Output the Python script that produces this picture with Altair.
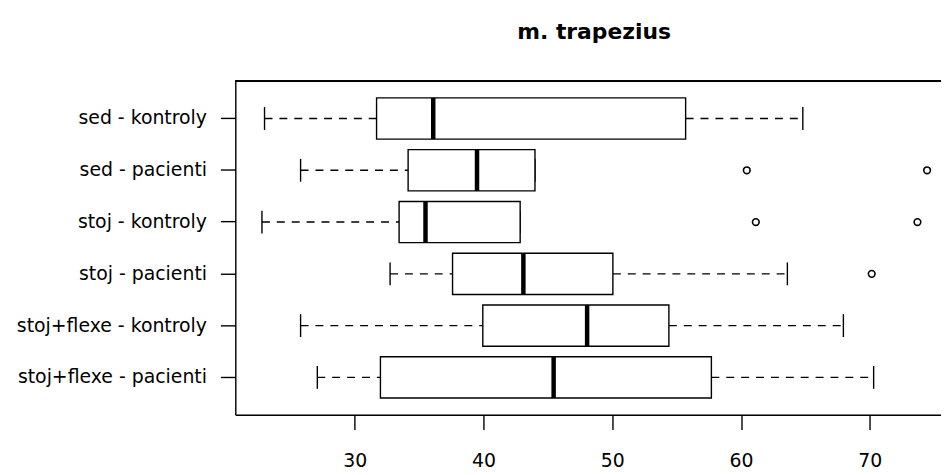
import altair as alt
import pandas as pd

# ---- data ----
groups = [
    "sed - kontroly",
    "sed - pacienti",
    "stoj - kontroly",
    "stoj - pacienti",
    "stoj+flexe - kontroly",
    "stoj+flexe - pacienti",
]
lower_whisker = [23.0, 25.8, 22.8, 32.75, 25.8, 27.1]
q1 = [31.7, 34.15, 33.45, 37.6, 39.95, 32.0]
median = [36.1, 39.5, 35.5, 43.1, 48.05, 45.45]
q3 = [55.7, 44.0, 42.85, 50.05, 54.4, 57.7]
upper_whisker = [64.8, 44.0, 42.85, 63.6, 67.95, 70.3]

outlier_groups = ["sed - pacienti", "sed - pacienti", "stoj - kontroly", "stoj - kontroly", "stoj - pacienti"]
outlier_values = [60.45, 74.45, 61.15, 73.7, 70.15]

x_ticks = [30, 40, 50, 60, 70]
title_text = "m. trapezius"

box = pd.DataFrame({
    "group": groups, "lw": lower_whisker, "q1": q1,
    "med": median, "q3": q3, "uw": upper_whisker,
})
out = pd.DataFrame({"group": outlier_groups, "value": outlier_values})

FONT = "DejaVu Sans"
W, H = 711, 336
LW = 1.4

xscale = alt.Scale(domain=[20.73, 75.53], nice=False, zero=False)
yscale = alt.Scale(paddingInner=0, paddingOuter=0.22)

X = lambda f: alt.X(f, type="quantitative", scale=xscale,
                    axis=alt.Axis(values=x_ticks, title=None, grid=False,
                                  tickSize=15, labelPadding=22,
                                  labelFont=FONT, labelFontSize=19,
                                  labelColor="black", tickColor="black",
                                  domainColor="black", labelFlush=False,
                                  domainWidth=LW, tickWidth=LW))
Y = alt.Y("group:N", sort=groups, scale=yscale,
          axis=alt.Axis(title=None, tickSize=15, labelPadding=14,
                        labelFont=FONT, labelFontSize=19, labelColor="black",
                        tickColor="black", domainColor="black", labelLimit=0,
                        labelBaseline="middle", domainWidth=LW, tickWidth=LW))

base = alt.Chart(box)

whisk_lo = base.mark_rule(color="black", strokeWidth=LW, strokeDash=[8, 7], opacity=1).encode(
    x=X("lw"), x2="q1", y=Y)
whisk_hi = base.mark_rule(color="black", strokeWidth=LW, strokeDash=[8, 7], opacity=1).encode(
    x=X("q3"), x2="uw", y=Y)
staple_lo = base.mark_tick(color="black", thickness=LW, size=23, opacity=1).encode(x=X("lw"), y=Y)
staple_hi = base.mark_tick(color="black", thickness=LW, size=23, opacity=1).encode(x=X("uw"), y=Y)
boxes = base.mark_bar(fill="white", stroke="black", strokeWidth=LW, size=41.5, opacity=1).encode(
    x=X("q1"), x2="q3", y=Y)
meds = base.mark_tick(color="black", thickness=4.5, size=41.5, opacity=1).encode(x=X("med"), y=Y)
pts = alt.Chart(out).mark_point(shape="circle", filled=False, color="black",
                                size=45, strokeWidth=1.6, opacity=1).encode(
    x=X("value"), y=Y)
top_frame = base.mark_rule(color="black", strokeWidth=LW).encode(
    x=alt.value(0), x2=alt.value(W), y=alt.value(0))

chart = alt.layer(whisk_lo, whisk_hi, staple_lo, staple_hi, boxes, meds, pts, top_frame).properties(
    width=W, height=H,
    title=alt.TitleParams(title_text, font=FONT, fontSize=22, fontWeight="bold",
                          anchor="middle", color="black", offset=20,
                          baseline="alphabetic", dx=6),
    padding={"left": 229, "top": 72, "right": 0, "bottom": 58},
    autosize=alt.AutoSizeParams(type="none"),
).configure_view(stroke=None).configure(background="white")

chart.save("out.html", embed_options={"renderer": "svg", "actions": False})
